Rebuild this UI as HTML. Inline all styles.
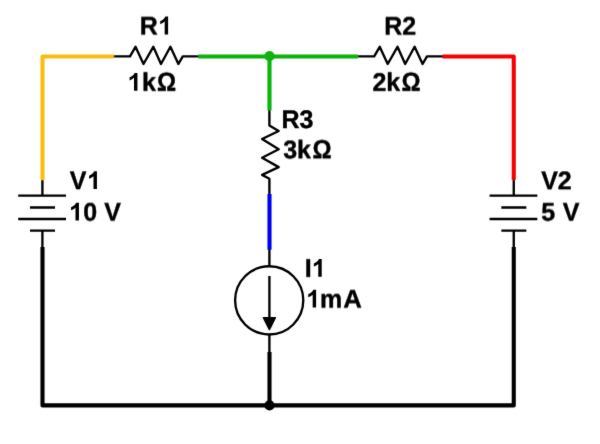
<!DOCTYPE html>
<html><head><meta charset="utf-8"><style>
html,body{margin:0;padding:0;background:#fff;width:600px;height:444px;overflow:hidden}
svg{position:absolute;left:0;top:0;display:block;text-rendering:geometricPrecision}
text{font-family:"Liberation Sans",sans-serif;font-weight:bold;font-size:25px;fill:#000;stroke:#000;stroke-width:0.4px;stroke-linejoin:round}
</style></head><body>
<svg width="600" height="444" viewBox="0 0 600 444">
<defs>
<filter id="bl" filterUnits="userSpaceOnUse" x="0" y="0" width="600" height="444"><feConvolveMatrix order="3" kernelMatrix="1 10 1 10 100 10 1 10 1" edgeMode="duplicate"/></filter>
<filter id="sm50" filterUnits="userSpaceOnUse" x="0" y="0" width="600" height="444"><feConvolveMatrix order="1 3" kernelMatrix="0.50 0.50 0" divisor="1" edgeMode="none"/></filter>
<filter id="sm20" filterUnits="userSpaceOnUse" x="0" y="0" width="600" height="444"><feConvolveMatrix order="1 3" kernelMatrix="0.20 0.80 0" divisor="1" edgeMode="none"/></filter>
<filter id="sm40" filterUnits="userSpaceOnUse" x="0" y="0" width="600" height="444"><feConvolveMatrix order="1 3" kernelMatrix="0.40 0.60 0" divisor="1" edgeMode="none"/></filter>
<filter id="sp30" filterUnits="userSpaceOnUse" x="0" y="0" width="600" height="444"><feConvolveMatrix order="1 3" kernelMatrix="0 0.70 0.30" divisor="1" edgeMode="none"/></filter>
<filter id="sp10" filterUnits="userSpaceOnUse" x="0" y="0" width="600" height="444"><feConvolveMatrix order="1 3" kernelMatrix="0 0.90 0.10" divisor="1" edgeMode="none"/></filter>
<filter id="sp20" filterUnits="userSpaceOnUse" x="0" y="0" width="600" height="444"><feConvolveMatrix order="1 3" kernelMatrix="0 0.80 0.20" divisor="1" edgeMode="none"/></filter>
</defs>
<rect width="600" height="444" fill="#fff"/>
<g filter="url(#bl)">
<g fill="none" stroke="#000" stroke-width="2.35" stroke-linejoin="round" stroke-linecap="butt">
<path d="M112 56.3 H130.0 L135.50 46.80 L143.50 64.00 L153.30 46.80 L161.00 64.00 L170.40 46.80 L178.40 64.00 L182.80 56.30 H200"/>
<path d="M356 56.3 H374.2 L379.70 46.80 L387.70 64.00 L397.50 46.80 L405.20 64.00 L414.60 46.80 L422.60 64.00 L427.00 56.30 H444"/>
<path d="M269.4 108 V125.5 L278.70 131.00 L262.10 139.00 L278.70 149.30 L262.10 157.80 L278.70 167.10 L262.10 174.90 L269.40 178.70 V196"/>
<path d="M269.4 248 V266.3 M269.4 334.4 V354"/>
<path d="M42.4 178 V195.67 M18.2 195.67 H66.0 M30.0 207.5 H55.0 M18.2 219 H66.0 M30.0 230.6 H55.0 M42.4 230.6 V249"/>
<path d="M513.75 178 V195.67 M489.55 195.67 H537.35 M501.35 207.5 H526.35 M489.55 219 H537.35 M501.35 230.6 H526.35 M513.75 230.6 V249"/>
<circle cx="269.2" cy="300.35" r="34.1"/>
<path d="M269.4 276 V320"/>
</g>
<path d="M263.4 317.6 L275.4 317.6 L269.4 329.6 Z" fill="#000" stroke="#000" stroke-width="1.4" stroke-linejoin="round"/>
<g fill="none" stroke-width="4.1" stroke-linejoin="round" stroke-linecap="butt">
<path d="M42.5 180 V56.5 H113.8" stroke="#F9BE10"/>
<path d="M198.3 56.5 H358" stroke="#0BB20B"/>
<path d="M269.5 56.5 V110.4" stroke="#0BB20B"/>
<path d="M269.5 194 V249.7" stroke="#0000F0"/>
<path d="M442.5 56.5 H513.75 V179.7" stroke="#F60000"/>
<path d="M42.5 247 V405.4 H513.75 V247" stroke="#000"/>
<path d="M269.5 352 V405.4" stroke="#000"/>
</g>
<circle cx="269.5" cy="56.2" r="5.1" fill="#0BB20B"/>
<circle cx="269.5" cy="405.4" r="5.1" fill="#000"/>
<g filter="url(#sm50)"><text transform="translate(139.85 35) scale(1 1.02)">R</text></g>
<g filter="url(#sm20)"><text transform="translate(142.05 91) scale(1 1.02)">k</text></g>
<g filter="url(#sm40)"><text transform="translate(384.30 35) scale(1 1.02)">R2</text></g>
<g filter="url(#sm20)"><text transform="translate(372.40 91) scale(1 1.02)">2k</text></g>
<text transform="translate(281.40 128) scale(1 1.02)">R3</text>
<g filter="url(#sp30)"><text transform="translate(283.20 158) scale(1 1.02)">3k</text></g>
<g filter="url(#sp10)"><text transform="translate(69.80 189) scale(1 1.02)">V</text></g>
<g filter="url(#sm40)"><text transform="translate(83.30 221) scale(1 1.02)">0 V</text></g>
<g filter="url(#sp20)"><text transform="translate(541.20 189) scale(1 1.02)">V2</text></g>
<g filter="url(#sm40)"><text transform="translate(541.30 221) scale(1 1.02)">5</text></g>
<g filter="url(#sm40)"><text transform="translate(562.65 221) scale(1 1.02)">V</text></g>
<g filter="url(#sm20)"><text transform="translate(304.63 277) scale(1 1.02)">I</text></g>
<g filter="url(#sm40)"><text transform="translate(319.90 308) scale(1 1.02)">m</text></g>
<g filter="url(#sm40)"><text transform="translate(343.13 308) scale(1.03 1.02)">A</text></g>
<g filter="url(#sm20)"><text transform="translate(157.04 91) scale(0.954 1.05)">Ω</text></g>
<g filter="url(#sm20)"><text transform="translate(401.54 91) scale(0.954 1.05)">Ω</text></g>
<g filter="url(#sp30)"><text transform="translate(312.44 158) scale(0.954 1.05)">Ω</text></g>
<path transform="translate(158.57 34.5) scale(0.012207 -0.012207)" d="M781 0H500V1059Q346 915 137 846V1101Q247 1137 375 1236Q503 1335 551 1466H781Z"/>
<path transform="translate(127.9 90.8) scale(0.012207 -0.012207)" d="M781 0H500V1059Q346 915 137 846V1101Q247 1137 375 1236Q503 1335 551 1466H781Z"/>
<path transform="translate(87.4 189.1) scale(0.012207 -0.012207)" d="M781 0H500V1059Q346 915 137 846V1101Q247 1137 375 1236Q503 1335 551 1466H781Z"/>
<path transform="translate(69.4 220.6) scale(0.012207 -0.012207)" d="M781 0H500V1059Q346 915 137 846V1101Q247 1137 375 1236Q503 1335 551 1466H781Z"/>
<path transform="translate(312.18 276.86) scale(0.012207 -0.012207)" d="M781 0H500V1059Q346 915 137 846V1101Q247 1137 375 1236Q503 1335 551 1466H781Z"/>
<path transform="translate(306.57 307.6) scale(0.012207 -0.012207)" d="M781 0H500V1059Q346 915 137 846V1101Q247 1137 375 1236Q503 1335 551 1466H781Z"/>
</g>
</svg>
</body></html>
